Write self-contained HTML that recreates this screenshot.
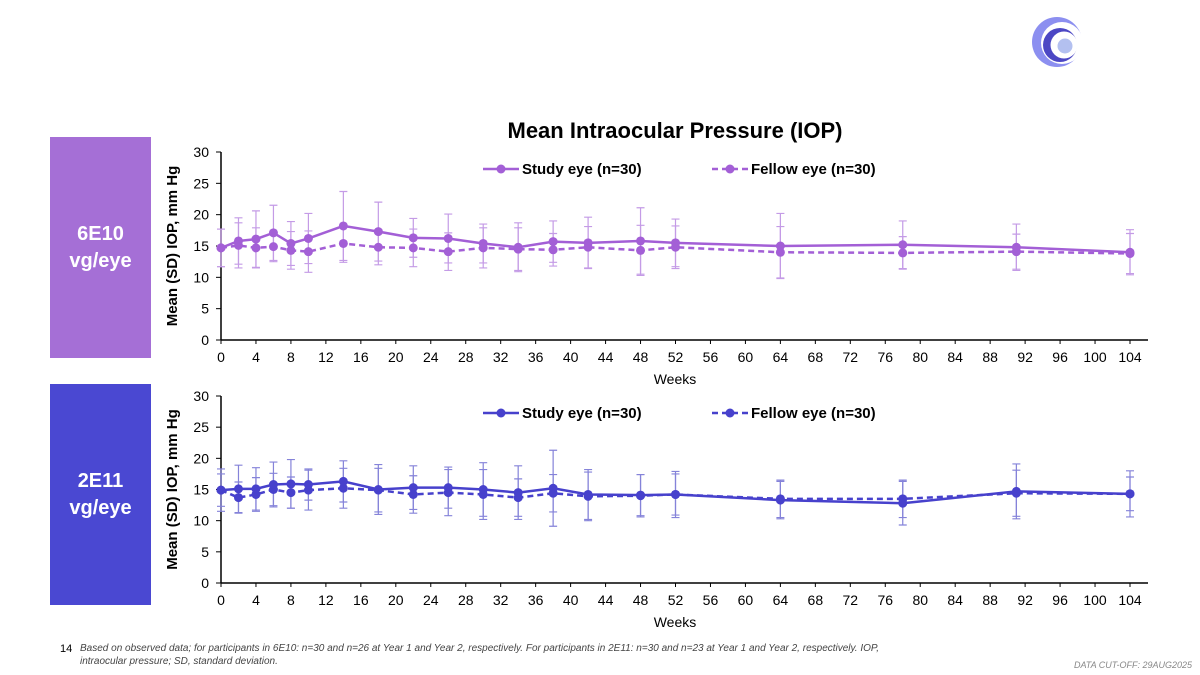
<!DOCTYPE html>
<html><head><meta charset="utf-8"><style>
body{margin:0;width:1200px;height:675px;background:#fff;font-family:"Liberation Sans",sans-serif;overflow:hidden;position:relative}
.box{position:absolute;left:50px;width:101px;height:221px;color:#fff;font-weight:bold;font-size:20px;text-align:center;display:flex;align-items:center;justify-content:center;line-height:27px}
svg text{font-family:"Liberation Sans",sans-serif}
</style></head><body>
<div class="box" style="top:137px;background:#a56fd6">6E10<br>vg/eye</div>
<div class="box" style="top:384px;background:#4a48d2">2E11<br>vg/eye</div>
<svg id="s" width="1200" height="675" style="position:absolute;left:0;top:0">
<g>
<circle cx="1057" cy="42" r="25" fill="#8c8ff0"/>
<circle cx="1062" cy="43" r="21" fill="#fff"/>
<circle cx="1060" cy="45" r="17" fill="#4c47c4"/>
<circle cx="1064" cy="45" r="13.5" fill="#fff"/>
<circle cx="1065" cy="46" r="7.5" fill="#b3c0f0"/>
</g>
<text x="675" y="138" text-anchor="middle" font-size="22" font-weight="bold" fill="#000">Mean Intraocular Pressure (IOP)</text>
<text x="60" y="652" font-size="11" fill="#000">14</text>
<text x="80" y="651" font-size="10" font-style="italic" fill="#444">Based on observed data; for participants in 6E10: n=30 and n=26 at Year 1 and Year 2, respectively. For participants in 2E11: n=30 and n=23 at Year 1 and Year 2, respectively. IOP,</text>
<text x="80" y="664" font-size="10" font-style="italic" fill="#444">intraocular pressure; SD, standard deviation.</text>
<text x="1192" y="668" text-anchor="end" font-size="9" font-style="italic" fill="#888">DATA CUT-OFF: 29AUG2025</text>
</svg>
<script>
const weeks=[0,2,4,6,8,10,14,18,22,26,30,34,38,42,48,52,64,78,91,104];
const xTicks=[0,4,8,12,16,20,24,28,32,36,40,44,48,52,56,60,64,68,72,76,80,84,88,92,96,100,104];
const yTicks=[0,5,10,15,20,25,30];
const topStudy=[14.7,15.8,16.1,17.1,15.4,16.2,18.2,17.3,16.3,16.2,15.4,14.8,15.7,15.5,15.8,15.5,15.0,15.2,14.8,14.0];
const topStudySD=[3.0,3.7,4.5,4.4,3.5,4.0,5.5,4.7,3.1,3.9,3.1,3.9,3.3,4.1,5.3,3.8,5.2,3.8,3.7,3.6];
const topFellow=[14.7,15.1,14.7,14.9,14.3,14.1,15.4,14.8,14.7,14.1,14.7,14.5,14.4,14.8,14.3,14.8,14.0,13.9,14.1,13.8];
const topFellowSD=[3.0,3.6,3.2,2.4,3.0,3.3,3.0,2.8,3.0,3.0,3.2,3.4,2.6,3.3,4.0,3.4,4.1,2.6,2.8,3.2];
const botStudy=[14.9,15.1,15.1,15.8,15.9,15.8,16.3,15.0,15.3,15.3,15.0,14.5,15.2,14.2,14.1,14.2,13.3,12.8,14.7,14.3];
const botStudySD=[3.4,3.8,3.4,3.6,3.9,2.5,3.3,4.0,3.5,3.3,4.3,4.3,6.1,4.0,3.3,3.7,3.0,3.5,4.4,3.7];
const botFellow=[14.9,13.7,14.2,15.0,14.5,14.9,15.2,14.9,14.2,14.5,14.2,13.7,14.4,13.9,14.0,14.2,13.5,13.5,14.4,14.3];
const botFellowSD=[2.6,2.5,2.7,2.6,2.5,3.2,3.2,3.5,3.0,3.7,4.0,3.0,3.0,3.9,3.4,3.3,3.0,3.0,3.7,2.7];
const NS='http://www.w3.org/2000/svg';
const svg=document.getElementById('s');
function mk(t,a,p){const e=document.createElementNS(NS,t);for(const k in a)e.setAttribute(k,a[k]);(p||svg).appendChild(e);return e;}
function chart(id,y30,y0,study,studySD,fellow,fellowSD,col,barCol,legY){
  const g=mk('g',{});
  
  
  const X=w=>221+(w/104)*(1130-221);
  const Y=v=>y0-(v/30)*(y0-y30);
  mk('line',{x1:221,y1:y30,x2:221,y2:y0,stroke:'#000','stroke-width':1.5},g);
  mk('line',{x1:221,y1:y0,x2:1148,y2:y0,stroke:'#000','stroke-width':1.5},g);
  yTicks.forEach(v=>{mk('line',{x1:216,y1:Y(v),x2:221,y2:Y(v),stroke:'#000'},g);
    const t=mk('text',{x:209,y:Y(v)+5,'text-anchor':'end','font-size':14},g);t.textContent=v;
    });
  xTicks.forEach(w=>{mk('line',{x1:X(w),y1:y0,x2:X(w),y2:y0+4,stroke:'#000'},g);
    const t=mk('text',{x:X(w),y:y0+22,'text-anchor':'middle','font-size':14},g);t.textContent=w;
    });
  const xt=mk('text',{x:675,y:y0+44,'text-anchor':'middle','font-size':14},g);xt.textContent='Weeks';
  
  const yt=mk('text',{transform:`translate(177,${(y30+y0)/2}) rotate(-90)`,'text-anchor':'middle','font-size':15,'font-weight':'bold'},g);yt.textContent='Mean (SD) IOP, mm Hg';
  
  [[fellow,fellowSD],[study,studySD]].forEach(([v,sd])=>{weeks.forEach((w,i)=>{
    const x=X(w),a=Y(v[i]+sd[i]),b=Y(v[i]-sd[i]);
    const e=mk('path',{d:`M${x},${a}V${b}M${x-4},${a}H${x+4}M${x-4},${b}H${x+4}`,stroke:barCol,'stroke-width':1.2,fill:'none'},g);
    });});
  [[fellow,'6,4','fellow'],[study,null,'study']].forEach(([v,d,n])=>{
    const pts=weeks.map((w,i)=>X(w)+','+Y(v[i])).join(' ');
    const l=mk('polyline',{points:pts,fill:'none',stroke:col,'stroke-width':2.5},g);if(d)l.setAttribute('stroke-dasharray',d);
    
    weeks.forEach((w,i)=>{const c=mk('circle',{cx:X(w),cy:Y(v[i]),r:4.5,fill:col},g);
      });});
  [[483,'Study eye (n=30)',null],[712,'Fellow eye (n=30)','6,4']].forEach(([lx,txt,d])=>{
    const lg=mk('g',{},g);
    const l=mk('line',{x1:lx,y1:legY,x2:lx+36,y2:legY,stroke:col,'stroke-width':2.5},lg);if(d)l.setAttribute('stroke-dasharray',d);
    mk('circle',{cx:lx+18,cy:legY,r:4.5,fill:col},lg);
    const t=mk('text',{x:lx+39,y:legY+5,'font-size':15,'font-weight':'bold'},lg);t.textContent=txt;});
}
chart('6e10',152,340,topStudy,topStudySD,topFellow,topFellowSD,'#a35fd6','#c49be6',169);
chart('2e11',396,583,botStudy,botStudySD,botFellow,botFellowSD,'#4741cc','#8583d9',413);
</script>
</body></html>
